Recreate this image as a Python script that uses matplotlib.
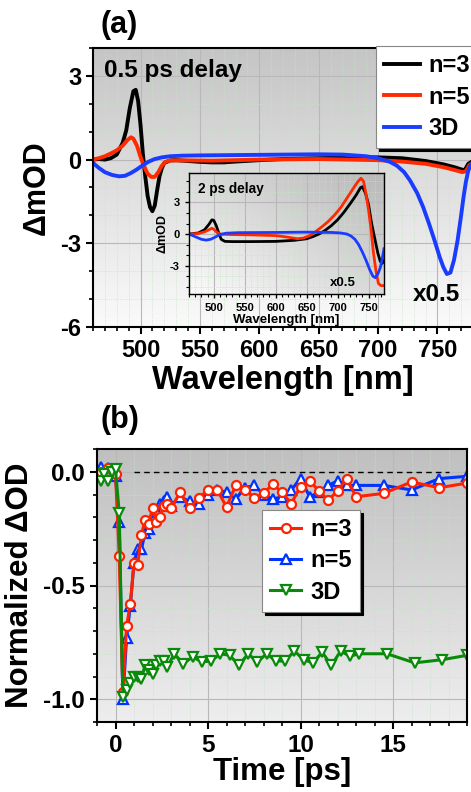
import numpy as np
import matplotlib
matplotlib.use('Agg')
import matplotlib.pyplot as plt
from matplotlib.ticker import MultipleLocator

plt.rcParams['font.family'] = ['Liberation Sans', 'DejaVu Sans']
plt.rcParams['font.weight'] = 'bold'
plt.rcParams['axes.labelweight'] = 'bold'
plt.rcParams['axes.unicode_minus'] = False

# ---- (a) 0.5 ps delay spectra ----
wl_n3 = [460, 465, 470, 475, 480, 485, 488, 491, 494, 496, 498, 500, 502, 504, 506, 508, 510,
         512, 514, 516, 518, 520, 525, 530, 540, 550, 560, 570, 580, 600, 620, 650, 680, 700,
         720, 740, 755, 765, 770, 773, 776, 780]
od_n3 = [0.0, 0.02, 0.0, 0.05, 0.18, 0.6, 1.05, 1.85, 2.45, 2.5, 2.1, 1.25, 0.2, -0.6, -1.3, -1.7,
         -1.85, -1.65, -1.1, -0.6, -0.3, -0.12, -0.03, -0.02, -0.05, -0.08, -0.1, -0.1, -0.07,
         -0.02, 0.02, 0.05, 0.08, 0.08, 0.05, -0.05, -0.17, -0.28, -0.35, -0.38, -0.15, -0.05]

wl_n5 = [460, 465, 470, 475, 480, 485, 489, 492, 494, 497, 500, 503, 506, 509, 512, 515, 518,
         521, 525, 540, 560, 580, 600, 650, 700, 720, 740, 755, 765, 771, 774, 777, 780]
od_n5 = [0.0, 0.05, 0.12, 0.22, 0.33, 0.5, 0.7, 0.8, 0.75, 0.5, 0.1, -0.25, -0.5, -0.62, -0.62,
         -0.45, -0.22, -0.08, -0.03, -0.03, -0.04, -0.02, 0.0, 0.02, -0.02, -0.07, -0.15, -0.27,
         -0.38, -0.45, -0.42, -0.2, -0.1]

wl_3d = [460, 465, 470, 476, 482, 487, 492, 497, 502, 507, 512, 518, 525, 535, 550, 600, 650,
         670, 690, 700, 710, 716, 722, 727, 733, 738, 743, 748, 752, 755, 758, 761, 764, 767,
         770, 772, 774, 776, 778, 780]
od_3d = [-0.12, -0.3, -0.45, -0.55, -0.6, -0.58, -0.48, -0.35, -0.2, -0.07, 0.02, 0.08, 0.12,
         0.14, 0.15, 0.17, 0.19, 0.18, 0.12, 0.05, -0.08, -0.22, -0.45, -0.75, -1.2, -1.7, -2.3,
         -2.95, -3.5, -3.85, -4.1, -4.05, -3.6, -2.9, -2.0, -1.35, -0.8, -0.4, -0.2, -0.1]

# ---- inset: 2 ps delay spectra ----
wl2_n3 = [460, 475, 485, 492, 497, 500, 504, 508, 512, 518, 530, 560, 600, 630, 650, 660, 670,
          680, 690, 700, 710, 720, 730, 737, 740, 745, 750, 755, 760, 765, 769, 772, 775]
od2_n3 = [0.0, 0.1, 0.4, 0.9, 1.35, 1.3, 0.8, 0.1, -0.5, -0.7, -0.72, -0.72, -0.7, -0.6, -0.45,
          -0.25, 0.0, 0.35, 0.8, 1.35, 2.05, 2.85, 3.7, 4.4, 4.5, 3.9, 2.8, 1.0, -0.4, -1.8,
          -2.6, -2.8, -2.5]

wl2_n5 = [460, 475, 485, 492, 497, 501, 506, 512, 530, 560, 600, 620, 635, 645, 655, 665, 675,
          685, 695, 705, 715, 725, 733, 738, 742, 746, 750, 754, 758, 762, 766, 770, 775]
od2_n5 = [0.0, 0.05, 0.2, 0.4, 0.55, 0.4, 0.1, -0.02, -0.05, -0.08, -0.15, -0.3, -0.45, -0.38,
          -0.15, 0.25, 0.7, 1.2, 1.8, 2.5, 3.4, 4.3, 5.0, 5.3, 5.0, 3.8, 2.3, 0.5, -1.8, -3.5,
          -4.7, -4.9, -4.9]

wl2_3d = [460, 470, 480, 488, 495, 502, 510, 520, 540, 600, 650, 690, 705, 715, 722, 728, 734,
          740, 746, 752, 757, 761, 765, 769, 772, 775]
od2_3d = [0.0, -0.25, -0.5, -0.58, -0.5, -0.3, -0.05, 0.08, 0.13, 0.15, 0.18, 0.15, 0.1, 0.0,
          -0.2, -0.5, -1.0, -1.7, -2.5, -3.4, -4.0, -4.15, -3.8, -3.2, -2.4, -1.4]

# ---- (b) normalized kinetics ----
t_n3 = [-0.8, -0.4, 0.0, 0.2, 0.4, 0.6, 0.8, 1.0, 1.2, 1.4, 1.6, 1.8, 2.0, 2.2, 2.4, 2.6, 2.8,
        3.0, 3.5, 4.0, 4.5, 5.0, 5.5, 6.0, 6.5, 7.0, 7.5, 8.0, 8.5, 9.0, 9.5, 10.0, 10.5, 11.0,
        11.5, 12.0, 12.5, 13.0, 14.5, 16.0, 17.5, 19.0]
k_n3 = [0.0, 0.015, -0.01, -0.37, -0.97, -0.68, -0.58, -0.40, -0.41, -0.28, -0.21, -0.23, -0.16,
        -0.22, -0.20, -0.15, -0.14, -0.16, -0.09, -0.16, -0.115, -0.08, -0.08, -0.155, -0.06,
        -0.08, -0.115, -0.095, -0.055, -0.09, -0.14, -0.065, -0.04, -0.085, -0.125, -0.085,
        -0.03, -0.11, -0.095, -0.045, -0.07, -0.05]

t_n5 = [-0.8, -0.4, 0.0, 0.2, 0.4, 0.6, 0.8, 1.0, 1.2, 1.4, 1.6, 1.8, 2.0, 2.2, 2.4, 2.6, 2.8,
        3.0, 3.5, 4.0, 4.5, 5.0, 5.5, 6.0, 6.5, 7.0, 7.5, 8.0, 8.5, 9.0, 9.5, 10.0, 10.5, 11.0,
        11.5, 12.0, 12.5, 13.0, 14.5, 16.0, 17.5, 19.0]
k_n5 = [0.02, 0.015, -0.02, -0.22, -1.0, -0.73, -0.59, -0.40, -0.34, -0.34, -0.27, -0.25, -0.21,
        -0.17, -0.14, -0.13, -0.11, -0.15, -0.11, -0.13, -0.14, -0.10, -0.08, -0.09, -0.12,
        -0.07, -0.06, -0.10, -0.12, -0.11, -0.08, -0.03, -0.11, -0.09, -0.06, -0.04, -0.06,
        -0.06, -0.06, -0.08, -0.03, -0.02]

t_3d = [-0.8, -0.6, -0.4, -0.2, 0.0, 0.2, 0.4, 0.6, 0.8, 1.0, 1.2, 1.4, 1.6, 1.8, 2.0, 2.2, 2.4,
        2.6, 2.8, 3.17, 3.67, 4.17, 4.67, 5.17, 5.67, 6.17, 6.67, 7.17, 7.67, 8.17, 8.67, 9.17,
        9.67, 10.17, 10.67, 11.17, 11.67, 12.17, 12.67, 13.17, 14.67, 16.17, 17.67, 19.0]
k_3d = [-0.04, -0.01, -0.04, 0.0, 0.01, -0.18, -0.99, -0.96, -0.93, -0.90, -0.90, -0.91, -0.85,
        -0.87, -0.89, -0.85, -0.83, -0.83, -0.86, -0.80, -0.843, -0.814, -0.836, -0.832, -0.80,
        -0.807, -0.85, -0.80, -0.836, -0.80, -0.832, -0.832, -0.788, -0.826, -0.84, -0.793,
        -0.851, -0.788, -0.811, -0.80, -0.80, -0.84, -0.826, -0.807]

zero_span = [1, 18]


def shade(ax, top, bottom, diag=False):
    if diag:
        x = np.linspace(0, 1, 200)
        y = np.linspace(1, 0, 200)
        X, Y = np.meshgrid(x, y)
        g = bottom + (top - bottom) * (0.5 * X + 0.5 * Y)
    else:
        g = np.linspace(top, bottom, 256).reshape(-1, 1)
    ax.imshow(g, cmap='gray', vmin=0, vmax=1, extent=(0, 1, 0, 1), transform=ax.transAxes,
              aspect='auto', zorder=-10, interpolation='bicubic')


def style(ax, lw=1.5, major_len=5, minor_len=3, size=17):
    ax.set_axisbelow(True)
    ax.grid(True, which='major', color='#b8b8b8', lw=0.8)
    ax.grid(True, which='minor', color='#c6e3c6', lw=0.6, ls=':')
    for s in ax.spines.values():
        s.set_linewidth(lw)
    ax.tick_params(which='major', direction='out', length=major_len, width=lw, labelsize=size)
    ax.tick_params(which='minor', direction='out', length=minor_len, width=lw * 0.8)


fig = plt.figure(figsize=(4.71, 7.92), dpi=100)

# panel (a)
ax = fig.add_axes([93 / 471, 1 - 327 / 792, 380 / 471, 279 / 792])
shade(ax, 0.77, 0.98)
ax.plot(wl_n3, od_n3, color='black', lw=2.8, label='n=3')
ax.plot(wl_n5, od_n5, color='#ff2a00', lw=2.8, label='n=5')
ax.plot(wl_3d, od_3d, color='#1a3cff', lw=2.8, label='3D')
ax.set_xlim(460, 780)
ax.set_ylim(-6, 4)
ax.xaxis.set_major_locator(MultipleLocator(50))
ax.xaxis.set_minor_locator(MultipleLocator(10))
ax.yaxis.set_major_locator(MultipleLocator(3))
ax.yaxis.set_minor_locator(MultipleLocator(1))
style(ax)
ax.set_xlabel('Wavelength [nm]', fontsize=23.5, labelpad=2)
ax.set_ylabel('\u0394mOD', fontsize=22, labelpad=6)
ax.text(0.029, 0.921, '0.5 ps delay', transform=ax.transAxes, fontsize=17.5, va='center')
ax.text(0.841, 0.115, 'x0.5', transform=ax.transAxes, fontsize=17.5, va='center')
leg = ax.legend(loc='upper left', bbox_to_anchor=(0.745, 1.007), fontsize=17, frameon=True,
                fancybox=False, framealpha=1, edgecolor='#888888', handlelength=1.5,
                labelspacing=0.35, borderpad=0.35, handletextpad=0.35, borderaxespad=0,
                shadow={'color': 'black', 'alpha': 1})
leg.get_frame().set_linewidth(0.8)
fig.text(100 / 471, 1 - 25 / 792, '(a)', fontsize=22, va='center')

# inset
ins = fig.add_axes([189 / 471, 1 - 294 / 792, 195 / 471, 121 / 792])
shade(ins, 0.72, 0.98, diag=True)
ins.plot(wl2_n3, od2_n3, color='black', lw=2)
ins.plot(wl2_n5, od2_n5, color='#ff2a00', lw=2)
ins.plot(wl2_3d, od2_3d, color='#1a3cff', lw=2)
ins.set_xlim(460, 775)
ins.set_ylim(-5.7, 5.8)
ins.xaxis.set_major_locator(MultipleLocator(50))
ins.xaxis.set_minor_locator(MultipleLocator(10))
ins.yaxis.set_major_locator(MultipleLocator(3))
ins.yaxis.set_minor_locator(MultipleLocator(1))
style(ins, lw=1.0, major_len=3, minor_len=2, size=8)
ins.set_xlabel('Wavelength [nm]', fontsize=9.5, labelpad=1)
ins.set_ylabel('\u0394mOD', fontsize=9, labelpad=1)
ins.text(0.046, 0.868, '2 ps delay', transform=ins.transAxes, fontsize=9.8, va='center')
ins.text(0.723, 0.09, 'x0.5', transform=ins.transAxes, fontsize=9.5, va='center')

# panel (b)
bx = fig.add_axes([97 / 471, 1 - 722 / 792, 370 / 471, 273 / 792])
shade(bx, 0.75, 0.93)
bx.plot(zero_span, [0, 0], color='black', ls='--', lw=1, dashes=(4, 3))
l5, = bx.plot(t_n5, k_n5, color='#0033ff', lw=2.2, marker='^', ms=7, mfc='white', mew=1.6,
              label='n=5')
l3, = bx.plot(t_n3, k_n3, color='#ff2200', lw=2.2, marker='o', ms=6.5, mfc='white', mew=1.6,
              label='n=3')
ld, = bx.plot(t_3d, k_3d, color='#0a8a0a', lw=2.2, marker='v', ms=7, mfc='white', mew=1.6,
              label='3D')
bx.set_xlim(-1, 19)
bx.set_ylim(-1.1, 0.1)
bx.xaxis.set_major_locator(MultipleLocator(5))
bx.xaxis.set_minor_locator(MultipleLocator(1))
bx.yaxis.set_major_locator(MultipleLocator(0.5))
bx.yaxis.set_minor_locator(MultipleLocator(0.1))
bx.yaxis.set_major_formatter(matplotlib.ticker.FormatStrFormatter('%.1f'))
style(bx, size=17.5)
bx.set_xlabel('Time [ps]', fontsize=22.5, labelpad=0)
bx.set_ylabel('Normalized \u0394OD', fontsize=22.5, labelpad=6)
legb = bx.legend(handles=[l3, l5, ld], loc='upper left', bbox_to_anchor=(0.446, 0.777),
                 fontsize=17, frameon=True, fancybox=False, framealpha=1,
                 edgecolor='#888888', handlelength=1.3, labelspacing=0.35, borderpad=0.35,
                 handletextpad=0.4, borderaxespad=0, shadow={'color': 'black', 'alpha': 1})
legb.get_frame().set_linewidth(0.8)
fig.text(100 / 471, 1 - 420 / 792, '(b)', fontsize=22, va='center')

fig.savefig('out.png', dpi=100)
